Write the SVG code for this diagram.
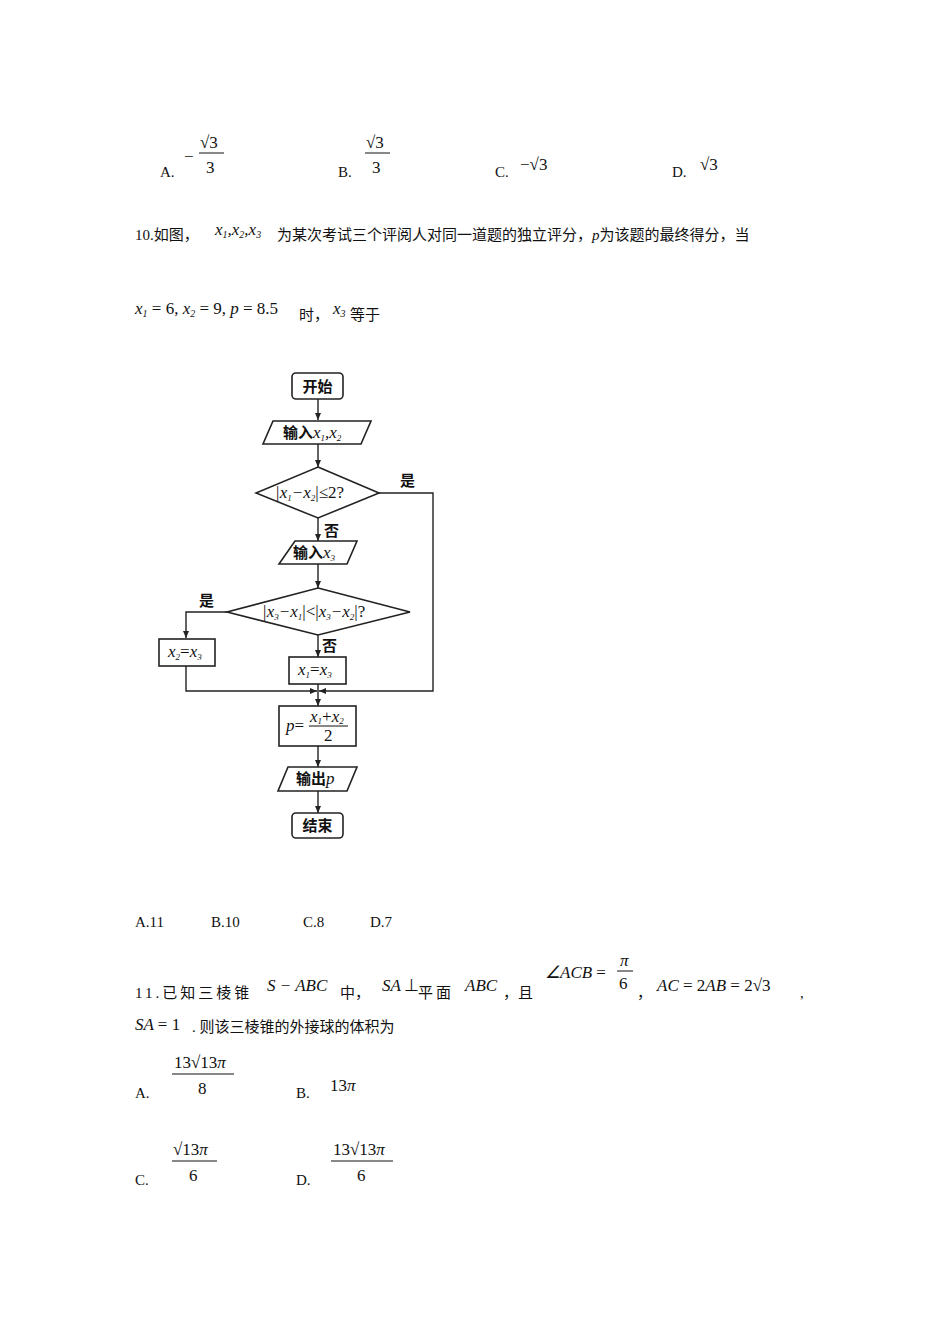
<svg xmlns="http://www.w3.org/2000/svg" width="950" height="1344" viewBox="0 0 950 1344">
<style>
.t{font-family:"Liberation Serif","Noto Sans CJK SC",serif;font-size:15px;fill:#111}
.m{font-family:"Liberation Serif",serif;font-style:italic;font-size:17px;fill:#111}
.r{font-family:"Liberation Serif",serif;font-size:17px;fill:#111}
.s{font-family:"Liberation Serif",serif;font-style:italic;font-size:9px;fill:#111}
.c{font-family:"Noto Sans CJK SC",sans-serif;font-size:15px;fill:#111;font-weight:bold}
.b{fill:#fff;stroke:#222;stroke-width:1.6}
.l{fill:none;stroke:#222;stroke-width:1.4}
</style>
<defs><marker id="a" markerWidth="8" markerHeight="8" refX="7" refY="4" orient="auto" markerUnits="userSpaceOnUse"><path d="M0,1 L7,4 L0,7z" fill="#222"/></marker></defs>
<rect width="950" height="1344" fill="#fff"/>
<text class="t" x="160" y="177">A.</text>
<text class="r" x="184" y="162">−</text><text class="r" x="200" y="148">√3</text><line x1="199" y1="153" x2="224" y2="153" stroke="#111"/><text class="r" x="206" y="173">3</text>
<text class="t" x="338" y="177">B.</text>
<text class="r" x="366" y="148">√3</text><line x1="365" y1="153" x2="390" y2="153" stroke="#111"/><text class="r" x="372" y="173">3</text>
<text class="t" x="495" y="177">C.</text><text class="r" x="520" y="170">−√3</text>
<text class="t" x="672" y="177">D.</text><text class="r" x="700" y="170">√3</text>
<text class="t" x="135" y="240">10.如图，</text>
<text class="m" x="215" y="235">x<tspan font-size="10" dy="3">1</tspan><tspan dy="-3">,</tspan>x<tspan font-size="10" dy="3">2</tspan><tspan dy="-3">,</tspan>x<tspan font-size="10" dy="3">3</tspan></text>
<text class="t" x="277" y="240">为某次考试三个评阅人对同一道题的独立评分，<tspan font-style="italic">p</tspan>为该题的最终得分，当</text>
<text class="m" x="135" y="314">x<tspan font-size="10" dy="3">1</tspan><tspan dy="-3" font-style="normal"> = 6, </tspan>x<tspan font-size="10" dy="3">2</tspan><tspan dy="-3" font-style="normal"> = 9, </tspan>p<tspan font-style="normal"> = 8.5</tspan></text>
<text class="t" x="299" y="320">时，</text>
<text class="m" x="333" y="314">x<tspan font-size="10" dy="3">3</tspan></text><text class="t" x="350" y="320">等于</text>
<g id="connectors">
<line class="l" x1="318" y1="399" x2="318" y2="420" marker-end="url(#a)"/>
<line class="l" x1="318" y1="444" x2="318" y2="467" marker-end="url(#a)"/>
<line class="l" x1="318" y1="518" x2="318" y2="541" marker-end="url(#a)"/>
<line class="l" x1="318" y1="564" x2="318" y2="588" marker-end="url(#a)"/>
<line class="l" x1="318" y1="635" x2="318" y2="657" marker-end="url(#a)"/>
<polyline class="l" points="227,612 186,612 186,638" marker-end="url(#a)"/>
<polyline class="l" points="379,493 433,493 433,691 319,691" marker-end="url(#a)"/>
<polyline class="l" points="186,666 186,691 317,691" marker-end="url(#a)"/>
<line class="l" x1="318" y1="684" x2="318" y2="706" marker-end="url(#a)"/>
<line class="l" x1="318" y1="746" x2="318" y2="767" marker-end="url(#a)"/>
<line class="l" x1="318" y1="791" x2="318" y2="813" marker-end="url(#a)"/>
<text class="c" x="400" y="486">是</text>
<text class="c" x="324" y="536">否</text>
<text class="c" x="199" y="606">是</text>
<text class="c" x="322" y="651">否</text>
</g>
<g id="start"><rect class="b" x="292" y="373" width="51" height="26" rx="4"/><text class="c" x="317.5" y="392" text-anchor="middle">开始</text></g>
<g id="in12"><polygon class="b" points="273,421 371,421 361,444 263,444"/><text class="c" x="283" y="438">输入<tspan class="m" font-weight="normal">x</tspan><tspan class="s" font-weight="normal" dy="3">1</tspan><tspan class="m" font-weight="normal" dy="-3">,x</tspan><tspan class="s" font-weight="normal" dy="3">2</tspan></text></g>
<g id="d1"><polygon class="b" points="318,467 379,493 318,518 256,493"/><text class="m" x="275" y="498" font-size="15">|x<tspan class="s" dy="3">1</tspan><tspan dy="-3">−x</tspan><tspan class="s" dy="3">2</tspan><tspan dy="-3" font-style="normal">|≤2?</tspan></text></g>
<g id="in3"><polygon class="b" points="295,541 357,541 347,564 279,564"/><text class="c" x="293" y="558">输入<tspan class="m" font-weight="normal">x</tspan><tspan class="s" font-weight="normal" dy="3">3</tspan></text></g>
<g id="d2"><polygon class="b" points="318,588 410,612 318,635 227,612"/><text class="m" x="262" y="617" font-size="14">|x<tspan class="s" dy="3">3</tspan><tspan dy="-3">−x</tspan><tspan class="s" dy="3">1</tspan><tspan dy="-3" font-style="normal">|&lt;|</tspan>x<tspan class="s" dy="3">3</tspan><tspan dy="-3">−x</tspan><tspan class="s" dy="3">2</tspan><tspan dy="-3" font-style="normal">|?</tspan></text></g>
<g id="b2"><rect class="b" x="159" y="639" width="56" height="27"/><text class="m" x="168" y="657" font-size="14">x<tspan class="s" dy="3">2</tspan><tspan dy="-3" font-style="normal">=</tspan>x<tspan class="s" dy="3">3</tspan></text></g>
<g id="b1"><rect class="b" x="289" y="657" width="57" height="27"/><text class="m" x="298" y="675" font-size="14">x<tspan class="s" dy="3">1</tspan><tspan dy="-3" font-style="normal">=</tspan>x<tspan class="s" dy="3">3</tspan></text></g>
<g id="pbox"><rect class="b" x="279" y="706" width="77" height="40"/><text class="m" x="286" y="731">p<tspan font-style="normal">=</tspan></text><text class="m" x="310" y="722" font-size="12">x<tspan class="s" dy="2">1</tspan><tspan dy="-2" font-style="normal">+</tspan>x<tspan class="s" dy="2">2</tspan></text><line x1="309" y1="726" x2="348" y2="726" stroke="#111"/><text class="r" x="324" y="741" font-size="13">2</text></g>
<g id="out"><polygon class="b" points="288,767 357,767 347,791 278,791"/><text class="c" x="296" y="784">输出<tspan class="m" font-weight="normal">p</tspan></text></g>
<g id="end"><rect class="b" x="292" y="813" width="51" height="25" rx="4"/><text class="c" x="317.5" y="831" text-anchor="middle">结束</text></g>
<text class="t" x="135" y="927">A.11</text><text class="t" x="211" y="927">B.10</text><text class="t" x="303" y="927">C.8</text><text class="t" x="370" y="927">D.7</text>
<text class="t" x="135" y="998" letter-spacing="3">11.已知三棱锥</text>
<text class="m" x="267" y="991">S − ABC</text><text class="t" x="340" y="998">中，</text>
<text class="m" x="382" y="991">SA</text><text class="r" x="404" y="991">⊥</text><text class="t" x="418" y="998" letter-spacing="3">平面</text>
<text class="m" x="465" y="991">ABC</text><text class="t" x="503" y="998">，且</text>
<text class="m" x="545" y="978">∠ACB <tspan font-style="normal">=</tspan></text><text class="m" x="620" y="966">π</text><line x1="617" y1="971" x2="633" y2="971" stroke="#111"/><text class="r" x="619" y="989">6</text>
<text class="t" x="637" y="998">，</text>
<text class="m" x="657" y="991">AC <tspan font-style="normal">= 2</tspan>AB <tspan font-style="normal">= 2√3</tspan></text><text class="t" x="800" y="998">,</text>
<text class="m" x="135" y="1030">SA <tspan font-style="normal">= 1</tspan></text>
<text class="t" x="192" y="1032">. 则该三棱锥的外接球的体积为</text>
<text class="t" x="135" y="1098">A.</text>
<text class="r" x="174" y="1068">13√13<tspan font-style="italic">π</tspan></text><line x1="172" y1="1074" x2="234" y2="1074" stroke="#111"/><text class="r" x="198" y="1094">8</text>
<text class="t" x="296" y="1098">B.</text><text class="r" x="330" y="1091">13<tspan font-style="italic">π</tspan></text>
<text class="t" x="135" y="1185">C.</text>
<text class="r" x="173" y="1155">√13<tspan font-style="italic">π</tspan></text><line x1="172" y1="1161" x2="217" y2="1161" stroke="#111"/><text class="r" x="189" y="1181">6</text>
<text class="t" x="296" y="1185">D.</text>
<text class="r" x="333" y="1155">13√13<tspan font-style="italic">π</tspan></text><line x1="331" y1="1161" x2="393" y2="1161" stroke="#111"/><text class="r" x="357" y="1181">6</text>
</svg>
